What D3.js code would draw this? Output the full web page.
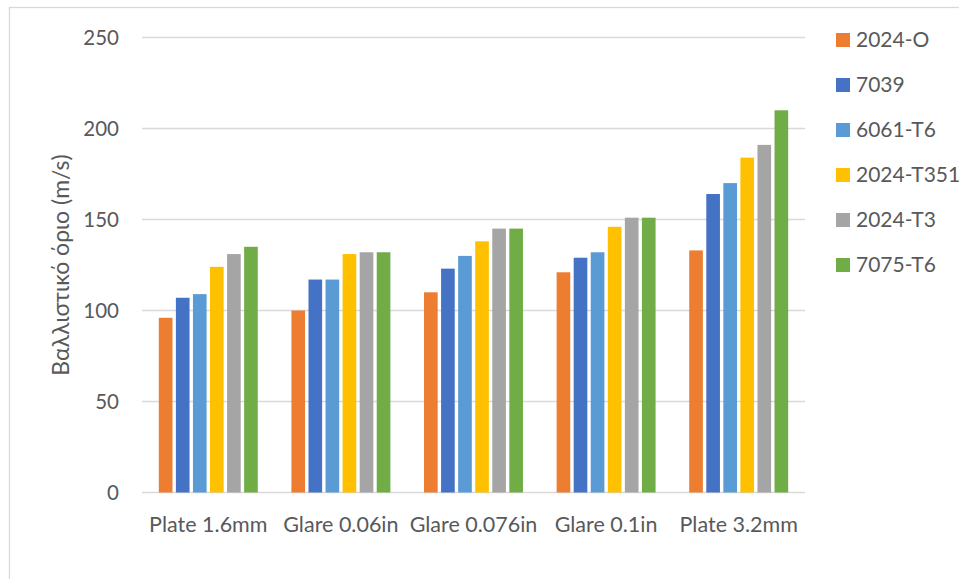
<!DOCTYPE html>
<html>
<head>
<meta charset="utf-8">
<script src="https://cdn.jsdelivr.net/npm/d3@7"></script>
<style>
  body { margin: 0; background: #fff; }
  text { font-family: Lato, "Open Sans", sans-serif; fill: #595959; }
</style>
</head>
<body>
<script>
// categories and series
const categories = ["Plate 1.6mm", "Glare 0.06in", "Glare 0.076in", "Glare 0.1in", "Plate 3.2mm"];
const seriesNames = ["2024-O", "7039", "6061-T6", "2024-T351", "2024-T3", "7075-T6"];
const seriesColors = ["#ED7D31", "#4472C4", "#5B9BD5", "#FFC000", "#A5A5A5", "#70AD47"];

// values per series, one per category
const v2024O    = [96, 100, 110, 121, 133];
const v7039     = [107, 117, 123, 129, 164];
const v6061T6   = [109, 117, 130, 132, 170];
const v2024T351 = [124, 131, 138, 146, 184];
const v2024T3   = [131, 132, 145, 151, 191];
const v7075T6   = [135, 132, 145, 151, 210];

const yTicks = [0, 50, 100, 150, 200, 250];

const seriesValues = [v2024O, v7039, v6061T6, v2024T351, v2024T3, v7075T6];

const width = 959;
const height = 579;
const margin = {top: 37.5, right: 154, bottom: 86.5, left: 142};

var svg = d3.select("body").append("svg")
    .attr("width", width)
    .attr("height", height);

// chart frame
svg.append("rect")
    .attr("x", 9.5)
    .attr("y", 7.5)
    .attr("width", 980)
    .attr("height", 620)
    .attr("fill", "none")
    .attr("stroke", "#d9d9d9")
    .attr("stroke-width", 1.3);

var x0 = d3.scaleBand()
    .domain(categories)
    .range([margin.left, width - margin.right])
    .paddingInner(0.228)
    .paddingOuter(0.114);

var x1 = d3.scaleBand()
    .domain(seriesNames)
    .range([0, x0.bandwidth()])
    .paddingInner(0.2)
    .paddingOuter(0.1);

var yscale = d3.scaleLinear()
    .domain([0, 250])
    .range([height - margin.bottom, margin.top]);

// gridlines
svg.append("g")
    .selectAll("line")
    .data(yTicks)
    .enter()
    .append("line")
    .attr("x1", margin.left)
    .attr("x2", width - margin.right)
    .attr("y1", d => yscale(d))
    .attr("y2", d => yscale(d))
    .attr("stroke", "#d9d9d9")
    .attr("stroke-width", 1.3);

// y tick labels
svg.append("g")
    .selectAll("text")
    .data(yTicks)
    .enter()
    .append("text")
    .attr("x", 119)
    .attr("y", d => yscale(d))
    .attr("dy", "0.35em")
    .attr("text-anchor", "end")
    .attr("font-size", 20.5)
    .text(d => d);

// bars
const rows = [];
seriesNames.forEach((s, i) => {
    categories.forEach((c, j) => {
        rows.push({series: s, cat: c, value: seriesValues[i][j], color: seriesColors[i]});
    });
});

svg.append("g")
    .selectAll("rect")
    .data(rows)
    .enter()
    .append("rect")
    .attr("x", d => x0(d.cat) + x1(d.series))
    .attr("y", d => yscale(d.value))
    .attr("width", x1.bandwidth())
    .attr("height", d => yscale(0) - yscale(d.value))
    .attr("fill", d => d.color);

// x labels
svg.append("g")
    .selectAll("text")
    .data(categories)
    .enter()
    .append("text")
    .attr("x", d => x0(d) + x0.bandwidth() / 2)
    .attr("y", 532)
    .attr("text-anchor", "middle")
    .attr("font-size", 21.5)
    .text(d => d);

// y axis title
svg.append("text")
    .attr("transform", "translate(69,265) rotate(-90)")
    .attr("text-anchor", "middle")
    .attr("font-size", 23)
    .text("Βαλλιστικό όριο (m/s)");

// legend
var legend = svg.append("g")
    .selectAll("g")
    .data(seriesNames)
    .enter()
    .append("g")
    .attr("transform", (d, i) => `translate(836, ${40 + i * 45})`);

legend.append("rect")
    .attr("x", 0)
    .attr("y", -7)
    .attr("width", 14)
    .attr("height", 14)
    .attr("fill", (d, i) => seriesColors[i]);

legend.append("text")
    .attr("x", 20)
    .attr("y", 0)
    .attr("dy", "0.35em")
    .attr("font-size", 21)
    .text(d => d);
</script>
</body>
</html>
